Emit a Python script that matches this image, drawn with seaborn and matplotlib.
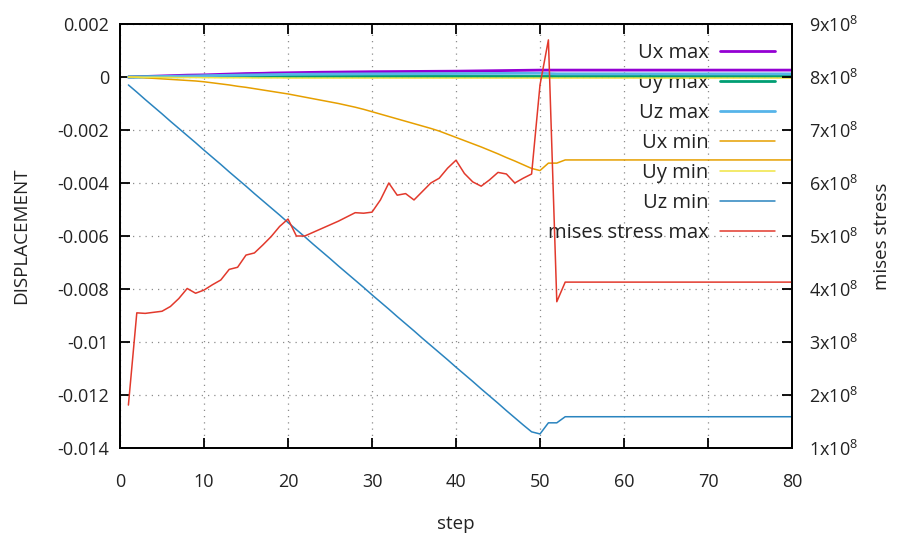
import matplotlib
matplotlib.use("Agg")
import matplotlib.pyplot as plt
import seaborn as sns
import pandas as pd

# ---------------- data ----------------
steps = list(range(1, 54)) + [80]

ux_max = [0.0, 0.00001, 0.00002, 0.00003, 0.00004, 0.00005, 0.00006, 0.00007, 0.000075, 0.00008,
          0.00009, 0.0001, 0.00011, 0.00012, 0.00013, 0.000135, 0.00014, 0.00015, 0.000155, 0.00016,
          0.000165, 0.00017, 0.000175, 0.00018, 0.000183, 0.000186, 0.00019, 0.000193, 0.000196, 0.0002,
          0.000202, 0.000204, 0.000206, 0.000208, 0.00021, 0.000212, 0.000214, 0.000216, 0.000218, 0.00022,
          0.000224, 0.000228, 0.000232, 0.000236, 0.00024, 0.000244, 0.000248, 0.000252, 0.000256, 0.00026,
          0.00026, 0.00026, 0.00026, 0.00026]
uy_max = [0.0, 0.0, 0.000005, 0.000005, 0.00001, 0.00001, 0.00001, 0.000015, 0.000015, 0.000015,
          0.00002, 0.00002, 0.00002, 0.00002, 0.00002, 0.00002, 0.00002, 0.00002, 0.00002, 0.00002,
          0.00002, 0.00002, 0.00002, 0.00002, 0.00002, 0.00002, 0.00002, 0.00002, 0.00002, 0.00002,
          0.00002, 0.00002, 0.00002, 0.00002, 0.00002, 0.00002, 0.00002, 0.00002, 0.00002, 0.00002,
          0.00002, 0.00002, 0.00002, 0.00002, 0.00002, 0.00002, 0.00002, 0.00002, 0.00002, 0.00002,
          0.00002, 0.00002, 0.00002, 0.00002]
uz_max = [0.0, 0.000005, 0.00001, 0.000015, 0.00002, 0.000025, 0.00003, 0.000035, 0.00004, 0.00005,
          0.000055, 0.00006, 0.000065, 0.00007, 0.000075, 0.00008, 0.000085, 0.00009, 0.000095, 0.0001,
          0.000102, 0.000104, 0.000106, 0.000108, 0.00011, 0.000112, 0.000114, 0.000116, 0.000118, 0.00012,
          0.000121, 0.000122, 0.000123, 0.000124, 0.000125, 0.000126, 0.000127, 0.000128, 0.000129, 0.00013,
          0.000131, 0.000132, 0.000133, 0.000134, 0.000135, 0.000136, 0.000137, 0.000138, 0.000139, 0.00014,
          0.00013, 0.00012, 0.00012, 0.00012]
ux_min = [0.0, -0.00001, -0.00003, -0.00005, -0.00007, -0.00009, -0.00011, -0.00013, -0.00015, -0.00018,
          -0.00022, -0.00026, -0.00030, -0.00035, -0.00039, -0.00044, -0.00049, -0.00054, -0.00059, -0.00064,
          -0.00070, -0.00076, -0.00082, -0.00088, -0.00094, -0.00100, -0.00107, -0.00114, -0.00122, -0.00131,
          -0.00140, -0.00149, -0.00158, -0.00167, -0.00176, -0.00185, -0.00194, -0.00204, -0.00216, -0.00228,
          -0.00240, -0.00252, -0.00264, -0.00277, -0.00290, -0.00304, -0.00317, -0.00331, -0.00345, -0.00353,
          -0.00325, -0.00325, -0.00313, -0.00313]
uy_min = [0.0, -0.000005, -0.00001, -0.00001, -0.000015, -0.000015, -0.00002, -0.00002, -0.00002, -0.000025,
          -0.000025, -0.00003, -0.00003, -0.00003, -0.00003, -0.000035, -0.000035, -0.000035, -0.000035, -0.00004,
          -0.00004, -0.00004, -0.00004, -0.00004, -0.00004, -0.00004, -0.00004, -0.00004, -0.00004, -0.00004,
          -0.00004, -0.00004, -0.00004, -0.00004, -0.00004, -0.00004, -0.00004, -0.00004, -0.00004, -0.00004,
          -0.00004, -0.00004, -0.00004, -0.00004, -0.00004, -0.00004, -0.00004, -0.00004, -0.00004, -0.00004,
          -0.00004, -0.00004, -0.00004, -0.00004]
uz_min = [-0.00030, -0.00057, -0.00085, -0.00112, -0.00139, -0.00167, -0.00194, -0.00221, -0.00248, -0.00276,
          -0.00303, -0.00330, -0.00358, -0.00385, -0.00412, -0.00440, -0.00467, -0.00494, -0.00521, -0.00549,
          -0.00576, -0.00603, -0.00631, -0.00658, -0.00685, -0.00713, -0.00740, -0.00767, -0.00794, -0.00822,
          -0.00849, -0.00876, -0.00904, -0.00931, -0.00958, -0.00986, -0.01013, -0.01040, -0.01067, -0.01095,
          -0.01122, -0.01149, -0.01177, -0.01204, -0.01231, -0.01259, -0.01286, -0.01313, -0.01339, -0.01347,
          -0.01305, -0.01305, -0.01282, -0.01282]
mises_max = [1.81e8, 3.55e8, 3.54e8, 3.56e8, 3.58e8, 3.67e8, 3.82e8, 4.01e8, 3.92e8, 3.98e8,
             4.08e8, 4.17e8, 4.37e8, 4.41e8, 4.64e8, 4.68e8, 4.83e8, 4.99e8, 5.18e8, 5.32e8,
             5.00e8, 5.00e8, 5.07e8, 5.14e8, 5.21e8, 5.28e8, 5.36e8, 5.44e8, 5.43e8, 5.45e8,
             5.68e8, 6.00e8, 5.77e8, 5.80e8, 5.68e8, 5.84e8, 6.00e8, 6.09e8, 6.28e8, 6.43e8,
             6.18e8, 6.02e8, 5.94e8, 6.06e8, 6.20e8, 6.17e8, 6.00e8, 6.09e8, 6.17e8, 7.85e8,
             8.70e8, 3.76e8, 4.13e8, 4.13e8]

series_names = ["Ux max", "Uy max", "Uz max", "Ux min", "Uy min", "Uz min"]
series_values = [ux_max, uy_max, uz_max, ux_min, uy_min, uz_min]
series_colors = ["#9400d3", "#009e73", "#56b4e9", "#e69f00", "#f0e442", "#2a84bf"]
series_widths = [2.0, 2.0, 2.0, 1.1, 1.1, 1.1]
mises_name = "mises stress max"
mises_color = "#e2392c"

x_ticks = [0, 10, 20, 30, 40, 50, 60, 70, 80]
y_ticks = [0.002, 0.0, -0.002, -0.004, -0.006, -0.008, -0.010, -0.012, -0.014]
y_tick_labels = ["0.002", "0", "-0.002", "-0.004", "-0.006", "-0.008", "-0.01", "-0.012", "-0.014"]
y2_ticks = [9e8, 8e8, 7e8, 6e8, 5e8, 4e8, 3e8, 2e8, 1e8]
y2_tick_labels = ["9x10$^{8}$", "8x10$^{8}$", "7x10$^{8}$", "6x10$^{8}$", "5x10$^{8}$",
                  "4x10$^{8}$", "3x10$^{8}$", "2x10$^{8}$", "1x10$^{8}$"]

# ---------------- style ----------------
sns.set_theme(style="white")
plt.rcParams["font.family"] = ["Open Sans", "DejaVu Sans"]
plt.rcParams["mathtext.default"] = "regular"
plt.rcParams["axes.unicode_minus"] = False

FS = 13
LFS = 13.5
fig = plt.figure(figsize=(8.97, 5.35), dpi=100)
ax = fig.add_axes([120 / 897, 1 - 448 / 535, 672 / 897, 424 / 535])
ax2 = ax.twinx()

df = pd.DataFrame({"step": steps})
for name, vals in zip(series_names, series_values):
    df[name] = vals
df[mises_name] = mises_max

for name, col, lw in zip(series_names, series_colors, series_widths):
    sns.lineplot(data=df, x="step", y=name, ax=ax, color=col, linewidth=lw, label=name, zorder=2)
sns.lineplot(data=df, x="step", y=mises_name, ax=ax2, color=mises_color, linewidth=1.1,
             label=mises_name, zorder=2)

h1, l1 = ax.get_legend_handles_labels()
h2, l2 = ax2.get_legend_handles_labels()
if ax.get_legend():
    ax.get_legend().remove()
if ax2.get_legend():
    ax2.get_legend().remove()

ax.set_xlim(0, 80)
ax.set_ylim(-0.014, 0.002)
ax2.set_ylim(1e8, 9e8)

ax.set_xticks(x_ticks)
ax.set_xticklabels([str(t) for t in x_ticks])
ax.set_yticks(y_ticks)
ax.set_yticklabels(y_tick_labels)
ax2.set_yticks(y2_ticks)
ax2.set_yticklabels(y2_tick_labels)

ax.grid(True, linestyle=(0, (1, 4)), color="#8c8c8c", linewidth=0.9)
ax.set_axisbelow(True)

for a in (ax, ax2):
    for s in a.spines.values():
        s.set_color("black")
        s.set_linewidth(1.3)
        s.set_visible(True)

ax.tick_params(axis="x", direction="in", length=7, width=1.3, bottom=True, top=True,
               labelsize=FS, pad=18, colors="black", labelcolor="#222222")
ax.tick_params(axis="y", direction="in", length=7, width=1.3, left=True, right=False,
               labelsize=FS, pad=8, colors="black", labelcolor="#222222")
ax2.tick_params(axis="y", direction="in", length=7, width=1.3, right=True, left=False,
                labelsize=FS, pad=12.5, colors="black", labelcolor="#222222")

ax.set_xlabel("step", fontsize=LFS, color="#222222")
ax.set_ylabel("DISPLACEMENT", fontsize=LFS, color="#222222")
ax2.set_ylabel("mises stress", fontsize=LFS, color="#222222")
ax.xaxis.set_label_coords(0.5, -0.158)
ax.yaxis.set_label_coords(-0.133, 0.5)
ax2.yaxis.set_label_coords(1.121, 0.5)

leg = ax.legend(h1 + h2, l1 + l2, loc="upper right", bbox_to_anchor=(0.975, 0.956),
                frameon=False, markerfirst=False, fontsize=14.5, handlelength=2.75,
                handletextpad=0.55, labelspacing=0.5, borderaxespad=0, borderpad=0)
leg.set_zorder(1)
for t in leg.get_texts():
    t.set_color("#222222")

fig.savefig("out.png", dpi=100)
